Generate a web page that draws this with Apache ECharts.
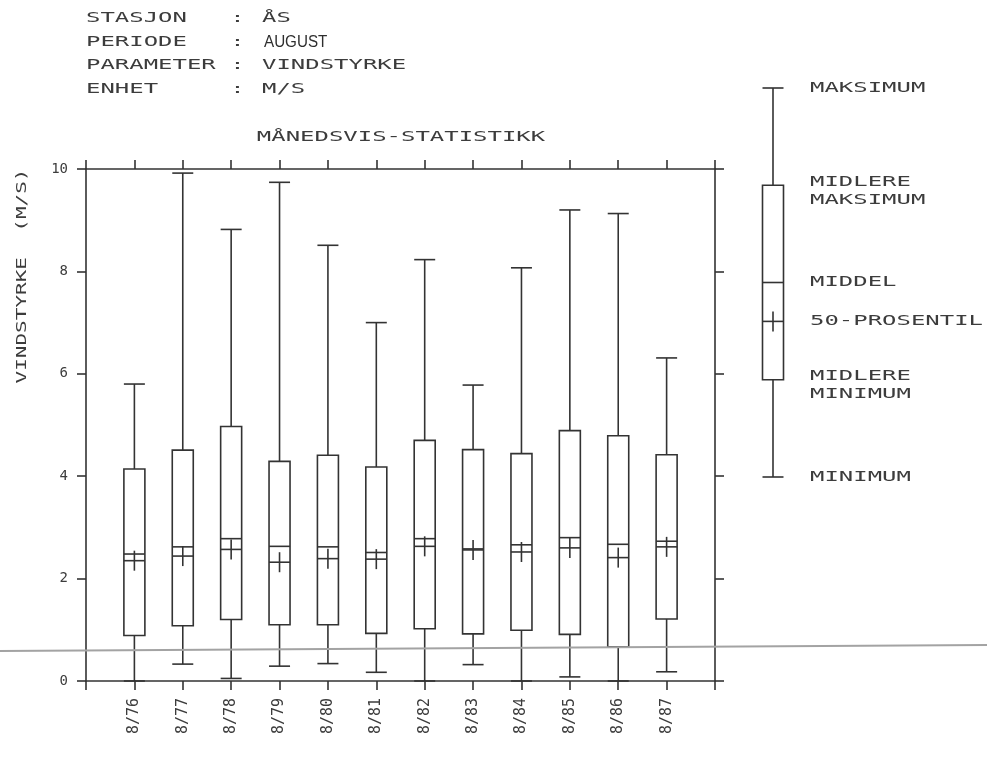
<!DOCTYPE html>
<html>
<head>
<meta charset="utf-8">
<script src="https://cdn.jsdelivr.net/npm/echarts@6/dist/echarts.min.js"></script>
<style>
html,body{margin:0;padding:0;background:#fff;}
#c{width:987px;height:757px;}
</style>
</head>
<body>
<div id="c"></div>
<script>
// ---- data ----
const CATEGORIES = ['8/76','8/77','8/78','8/79','8/80','8/81','8/82','8/83','8/84','8/85','8/86','8/87'];
const MAXIMUM    = [5.80, 9.92, 8.82, 9.74, 8.51, 7.00, 8.23, 5.78, 8.07, 9.20, 9.13, 6.31];
const MEAN_MAX   = [4.14, 4.51, 4.97, 4.29, 4.41, 4.18, 4.70, 4.52, 4.44, 4.89, 4.79, 4.42];
const MEAN       = [2.48, 2.62, 2.78, 2.63, 2.62, 2.51, 2.78, 2.58, 2.66, 2.80, 2.67, 2.73];
const MEDIAN     = [2.35, 2.44, 2.57, 2.32, 2.39, 2.38, 2.63, 2.56, 2.52, 2.60, 2.41, 2.62];
const MEAN_MIN   = [0.89, 1.08, 1.20, 1.10, 1.10, 0.93, 1.02, 0.92, 0.99, 0.91, 0.67, 1.21];
const MINIMUM    = [0.00, 0.33, 0.05, 0.29, 0.34, 0.17, 0.00, 0.32, 0.00, 0.08, 0.00, 0.18];
const Y_MIN = 0, Y_MAX = 10, Y_STEP = 2;

// schematic key (legend box), in its own 0..4 scale
const KEY_VALUES = [4, 3, 2, 1.6, 1, 0];
const KEY_LABELS = ['MAKSIMUM', 'MIDLERE\nMAKSIMUM', 'MIDDEL', '50-PROSENTIL', 'MIDLERE\nMINIMUM', 'MINIMUM'];

const HEADER_KEYS   = ['STASJON', 'PERIODE', 'PARAMETER', 'ENHET'];
const HEADER_VALUES = ['ÅS', 'AUGUST', 'VINDSTYRKE', 'M/S'];
const TITLE  = 'MÅNEDSVIS-STATISTIKK';
const Y_NAME = 'VINDSTYRKE  (M/S)';

// ---- styling ----
const INK = '#333333';
const TXT = '#3c3c3c';
const MONO = '"DejaVu Sans Mono", "Liberation Mono", monospace';
const SX = 1.71; // horizontal stretch of plotter lettering

const chart = echarts.init(document.getElementById('c'), null, {renderer: 'canvas'});

const xData = [''].concat(CATEGORIES).concat(['']);
const boxData = CATEGORIES.map((c, i) => [i + 1, MAXIMUM[i], MEAN_MAX[i], MEAN[i], MEDIAN[i], MEAN_MIN[i], MINIMUM[i]]);
const keyData = [[1].concat(KEY_VALUES)];

function boxChildren(api) {
  const xv = api.value(0);
  const p = [1,2,3,4,5,6].map(k => api.coord([xv, api.value(k)]));
  const cx = p[0][0], hw = 10.5;
  const ls = {stroke: INK, lineWidth: 1.6, fill: 'none'};
  const yMax = p[0][1], yTop = p[1][1], yMean = p[2][1], yMed = p[3][1], yBot = p[4][1], yMin = p[5][1];
  return [
    {type: 'line', shape: {x1: cx, y1: yMax, x2: cx, y2: yTop}, style: ls},
    {type: 'line', shape: {x1: cx - hw, y1: yMax, x2: cx + hw, y2: yMax}, style: ls},
    {type: 'rect', shape: {x: cx - hw, y: yTop, width: 2 * hw, height: yBot - yTop}, style: ls},
    {type: 'line', shape: {x1: cx - hw, y1: yMean, x2: cx + hw, y2: yMean}, style: ls},
    {type: 'line', shape: {x1: cx - hw, y1: yMed, x2: cx + hw, y2: yMed}, style: ls},
    {type: 'line', shape: {x1: cx, y1: yMed - 10, x2: cx, y2: yMed + 10}, style: ls},
    {type: 'line', shape: {x1: cx, y1: yBot, x2: cx, y2: yMin}, style: ls},
    {type: 'line', shape: {x1: cx - hw, y1: yMin, x2: cx + hw, y2: yMin}, style: ls}
  ];
}

function renderBox(params, api) {
  return {type: 'group', children: boxChildren(api)};
}

function renderKey(params, api) {
  const children = boxChildren(api);
  const xv = api.value(0);
  KEY_LABELS.forEach((lab, k) => {
    const pt = api.coord([xv, api.value(k + 1)]);
    const two = lab.indexOf('\n') >= 0;
    children.push({
      type: 'text', x: pt[0] + 37, y: pt[1] + (two ? 6 : 0), scaleX: SX,
      style: {text: lab, font: '14px ' + MONO, fill: TXT, align: 'left', verticalAlign: 'middle',
              textAlign: 'left', textVerticalAlign: 'middle', lineHeight: 18}
    });
  });
  return {type: 'group', children: children};
}

const graphics = [];
HEADER_KEYS.forEach((k, i) => {
  const y = 18.5 + i * 23.6;
  graphics.push({type: 'text', x: 86, y: y, scaleX: SX,
    style: {text: k.padEnd(10, ' ') + ':', font: '14px ' + MONO, fill: TXT,
            align: 'left', verticalAlign: 'middle', textAlign: 'left', textVerticalAlign: 'middle'}});
  const isTyped = HEADER_VALUES[i] === 'AUGUST';
  graphics.push({type: 'text', x: isTyped ? 264 : 262, y: y, scaleX: isTyped ? 0.95 : SX,
    style: {text: HEADER_VALUES[i], font: isTyped ? '16px "Liberation Sans", Arial, sans-serif' : '14px ' + MONO,
            fill: isTyped ? '#2e2e2e' : TXT, align: 'left', verticalAlign: 'middle', textAlign: 'left', textVerticalAlign: 'middle'}});
});
graphics.push({type: 'text', x: 401, y: 137, scaleX: SX,
  style: {text: TITLE, font: '14px ' + MONO, fill: TXT, align: 'center', verticalAlign: 'middle',
          textAlign: 'center', textVerticalAlign: 'middle'}});
graphics.push({type: 'text', x: 22, y: 276, rotation: Math.PI / 2, scaleX: 1.5,
  style: {text: Y_NAME, font: '14px ' + MONO, fill: TXT, align: 'center', verticalAlign: 'middle',
          textAlign: 'center', textVerticalAlign: 'middle'}});
// scanner fold line visible across the reference sheet
graphics.push({type: 'line', z: 100, shape: {x1: 0, y1: 651, x2: 987, y2: 645},
  style: {stroke: '#a3a3a3', lineWidth: 2}});

const axisLineStyle = {show: true, onZero: false, lineStyle: {color: INK, width: 1.6}};
const tickStyle = {show: true, length: 9, inside: false, lineStyle: {color: INK, width: 1.6}};

chart.setOption({
  animation: false,
  backgroundColor: '#ffffff',
  grid: [
    {left: 86, top: 169, width: 629, height: 512},
    {left: 753, top: 88, width: 40, height: 389}
  ],
  xAxis: [
    {type: 'category', gridIndex: 0, data: xData, boundaryGap: false, position: 'bottom',
     axisLine: axisLineStyle, axisTick: Object.assign({interval: 0}, tickStyle),
     axisLabel: {interval: 0, rotate: 90, margin: 17, color: TXT, fontFamily: MONO, fontSize: 15},
     splitLine: {show: false}},
    {type: 'category', gridIndex: 0, data: xData, boundaryGap: false, position: 'top',
     axisLine: axisLineStyle, axisTick: Object.assign({interval: 0}, tickStyle),
     axisLabel: {show: false}, splitLine: {show: false}},
    {type: 'value', gridIndex: 1, min: 0, max: 2, show: false}
  ],
  yAxis: [
    {type: 'value', gridIndex: 0, min: Y_MIN, max: Y_MAX, interval: Y_STEP, position: 'left',
     axisLine: axisLineStyle, axisTick: tickStyle,
     axisLabel: {margin: 18, color: TXT, fontFamily: MONO, fontSize: 14},
     splitLine: {show: false}},
    {type: 'value', gridIndex: 0, min: Y_MIN, max: Y_MAX, interval: Y_STEP, position: 'right',
     axisLine: axisLineStyle, axisTick: tickStyle, axisLabel: {show: false}, splitLine: {show: false}},
    {type: 'value', gridIndex: 1, min: 0, max: 4, show: false}
  ],
  series: [
    {type: 'custom', name: 'VINDSTYRKE', xAxisIndex: 0, yAxisIndex: 0, data: boxData,
     renderItem: renderBox, encode: {x: 0, y: [1, 2, 3, 4, 5, 6]}, silent: true, clip: false},
    {type: 'custom', name: 'KEY', xAxisIndex: 2, yAxisIndex: 2, data: keyData,
     renderItem: renderKey, encode: {x: 0, y: [1, 2, 3, 4, 5, 6]}, silent: true, clip: false}
  ],
  graphic: graphics
});
</script>
</body>
</html>
